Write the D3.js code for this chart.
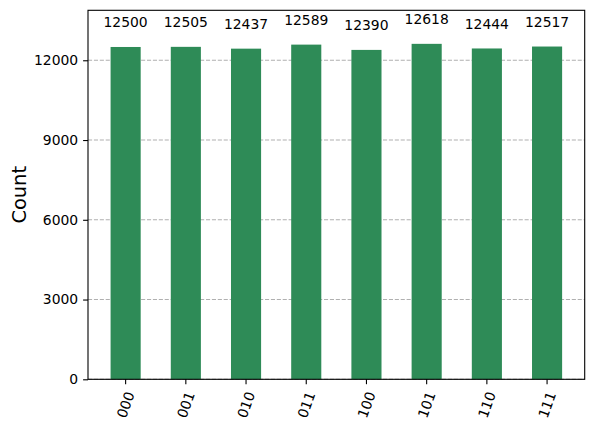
<!DOCTYPE html>
<html>
<head>
<meta charset="utf-8">
<script src="https://cdn.jsdelivr.net/npm/d3@7"></script>
<style>
  html, body { margin: 0; padding: 0; background: #fff; }
  svg { display: block; font-family: "DejaVu Sans", sans-serif; }
</style>
</head>
<body>
<svg id="chart" width="594" height="429"></svg>
<script>
const categories = ["000", "001", "010", "011", "100", "101", "110", "111"];
const counts = [12500, 12505, 12437, 12589, 12390, 12618, 12444, 12517];
const yTicks = [0, 3000, 6000, 9000, 12000];
const yLabel = "Count";

(function () {
const svg = d3.select("#chart");
const pL = 88, pR = 584.7, pT = 10.3, pB = 379.3;

const x = d3.scaleBand().domain(categories).range([pL, pR])
  .paddingInner(0.5).paddingOuter(0.375);
const y = d3.scaleLinear().domain([0, d3.max(counts) * 1.1]).range([pB, pT]);

// grid
svg.append("g").selectAll("line").data(yTicks).join("line")
  .attr("x1", pL).attr("x2", pR)
  .attr("y1", d => y(d)).attr("y2", d => y(d))
  .attr("stroke", "#b0b0b0").attr("stroke-width", 1.1)
  .attr("stroke-dasharray", "4.1,1.8");

// bars
svg.append("g").selectAll("rect").data(counts).join("rect")
  .attr("x", (d, i) => x(categories[i]))
  .attr("width", x.bandwidth())
  .attr("y", d => y(d))
  .attr("height", d => y(0) - y(d))
  .attr("fill", "#2e8b57");

// value labels
svg.append("g").selectAll("text").data(counts).join("text")
  .attr("x", (d, i) => x(categories[i]) + x.bandwidth() / 2)
  .attr("y", d => y(d * 1.05) - 3.3)
  .attr("text-anchor", "middle")
  .attr("font-size", 13.9)
  .attr("fill", "#000")
  .text(d => d);

// y axis
const yAxis = d3.axisLeft(y).tickValues(yTicks).tickSize(4.9).tickPadding(4.9).tickFormat(d3.format("d"));
const gy = svg.append("g").attr("transform", `translate(${pL},0)`).call(yAxis);
gy.select(".domain").remove();
gy.selectAll(".tick line").attr("stroke", "#000").attr("stroke-width", 1.1);
gy.selectAll(".tick text").attr("font-size", 13.9).attr("font-family", "DejaVu Sans").attr("fill", "#000");

// x axis
const xAxis = d3.axisBottom(x).tickSize(4.9).tickPadding(0);
const gx = svg.append("g").attr("transform", `translate(0,${pB})`).call(xAxis);
gx.select(".domain").remove();
gx.selectAll(".tick line").attr("stroke", "#000").attr("stroke-width", 1.1);
gx.selectAll(".tick text")
  .attr("font-size", 13.9).attr("font-family", "DejaVu Sans").attr("fill", "#000")
  .attr("y", null).attr("dy", null)
  .attr("text-anchor", "middle")
  .attr("dominant-baseline", "central")
  .attr("transform", "translate(0,25.5) rotate(-70)");

// frame
svg.append("rect").attr("x", pL).attr("y", pT)
  .attr("width", pR - pL).attr("height", pB - pT)
  .attr("fill", "none").attr("stroke", "#000").attr("stroke-width", 1.1);

// y label
svg.append("text")
  .attr("transform", `translate(19,${(pT + pB) / 2}) rotate(-90)`)
  .attr("text-anchor", "middle").attr("dominant-baseline", "central")
  .attr("font-size", 19.4).attr("fill", "#000")
  .text(yLabel);
})();
</script>
</body>
</html>
